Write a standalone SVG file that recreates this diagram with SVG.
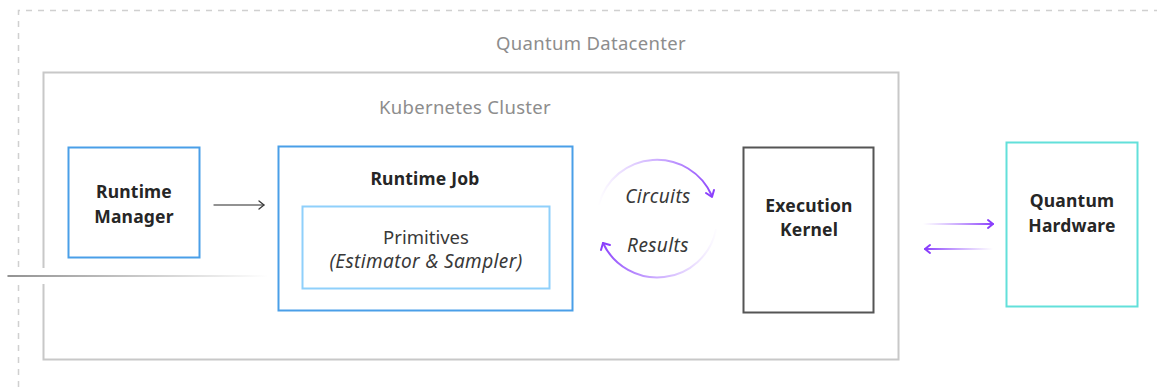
<svg xmlns="http://www.w3.org/2000/svg" width="1157" height="387" viewBox="0 0 1157 387">
<defs>
<style>
.title{font-family:"Noto Sans","Liberation Sans",sans-serif;font-size:18.5px;fill:#8d8d8d;text-anchor:middle;letter-spacing:0.3px}
.bold{font-family:"Noto Sans","Liberation Sans",sans-serif;font-size:17.5px;font-weight:bold;fill:#262626;text-anchor:middle;letter-spacing:0.2px}
.reg{font-family:"Noto Sans","Liberation Sans",sans-serif;font-size:18.5px;fill:#393939;text-anchor:middle}
.ital{font-family:"Noto Sans","Liberation Sans",sans-serif;font-size:19px;font-style:italic;fill:#393939;text-anchor:middle;letter-spacing:0.4px}
</style>
<linearGradient id="gLine" gradientUnits="userSpaceOnUse" x1="8" y1="0" x2="268" y2="0"><stop offset="0" stop-color="#6f6f6f"/><stop offset="1" stop-color="#6f6f6f" stop-opacity="0"/></linearGradient>
<linearGradient id="gUp" gradientUnits="userSpaceOnUse" x1="598" y1="0" x2="715" y2="0"><stop offset="0" stop-color="#a56eff" stop-opacity="0"/><stop offset="0.55" stop-color="#a56eff" stop-opacity="0.6"/><stop offset="1" stop-color="#8a3ffc"/></linearGradient>
<linearGradient id="gDown" gradientUnits="userSpaceOnUse" x1="718" y1="0" x2="600" y2="0"><stop offset="0" stop-color="#a56eff" stop-opacity="0"/><stop offset="0.55" stop-color="#a56eff" stop-opacity="0.6"/><stop offset="1" stop-color="#8a3ffc"/></linearGradient>
<linearGradient id="gR" gradientUnits="userSpaceOnUse" x1="923" y1="0" x2="993" y2="0"><stop offset="0" stop-color="#a56eff" stop-opacity="0"/><stop offset="1" stop-color="#8a3ffc"/></linearGradient>
<linearGradient id="gL" gradientUnits="userSpaceOnUse" x1="993" y1="0" x2="925" y2="0"><stop offset="0" stop-color="#a56eff" stop-opacity="0"/><stop offset="1" stop-color="#8a3ffc"/></linearGradient>
</defs>
<rect width="1157" height="387" fill="#ffffff"/>
<g id="datacenter">
<path d="M18.5 387 V10.5 H1157" fill="none" stroke="#d0d0d0" stroke-width="1.5" stroke-dasharray="6 6"/>
<text class="title" x="591" y="50">Quantum Datacenter</text>
</g>
<g id="cluster">
<rect x="43.5" y="72.5" width="855" height="287" fill="none" stroke="#c8c8c8" stroke-width="2"/>
<text class="title" x="465" y="114">Kubernetes Cluster</text>
</g>
<g id="runtime-manager">
<rect x="68.5" y="147.5" width="131" height="110" fill="#fff" stroke="#4a9fe8" stroke-width="2"/>
<text class="bold" x="134" y="198">Runtime</text>
<text class="bold" x="134" y="223">Manager</text>
</g>
<g id="runtime-job">
<rect x="278.5" y="146.5" width="294" height="164" fill="#fff" stroke="#4a9fe8" stroke-width="2"/>
<text class="bold" x="425" y="185">Runtime Job</text>
</g>
<g id="primitives">
<rect x="302.5" y="206.5" width="247" height="82" fill="#fff" stroke="#8fd0fb" stroke-width="2"/>
<text class="reg" x="426" y="244">Primitives</text>
<text class="ital" x="426" y="268">(Estimator &amp; Sampler)</text>
</g>
<g id="execution-kernel">
<rect x="743.5" y="147.5" width="130" height="165" fill="#fff" stroke="#555555" stroke-width="2"/>
<text class="bold" x="809" y="212">Execution</text>
<text class="bold" x="809" y="236">Kernel</text>
</g>
<g id="quantum-hardware">
<rect x="1006.5" y="142.5" width="131" height="164" fill="#fff" stroke="#62e0da" stroke-width="2"/>
<text class="bold" x="1072" y="207">Quantum</text>
<text class="bold" x="1072" y="232">Hardware</text>
</g>
<g id="connectors" fill="none" stroke-linecap="round" stroke-linejoin="round">
<rect x="5" y="268" width="265" height="16" fill="#ffffff" stroke="none"/>
<line x1="8" y1="276" x2="268" y2="276" stroke="url(#gLine)" stroke-width="1.5"/>
<path d="M214 205 H264" stroke="#6f6f6f" stroke-width="1.3"/>
<path d="M259 201 L264 205 L259 209" stroke="#393939" stroke-width="1.3"/>
<path d="M599 204 A60 60 0 0 1 712 196" stroke="url(#gUp)" stroke-width="2"/>
<path d="M706 193 L712 197 L714 190" stroke="#8a3ffc" stroke-width="2"/>
<path d="M716 230 A60 60 0 0 1 603 243" stroke="url(#gDown)" stroke-width="2"/>
<path d="M601 250 L603 243 L610 245" stroke="#8a3ffc" stroke-width="2"/>
<path d="M923 224 H993" stroke="url(#gR)" stroke-width="2"/>
<path d="M988 220 L993 224 L988 228" stroke="#8a3ffc" stroke-width="2"/>
<path d="M925 249 H993" stroke="url(#gL)" stroke-width="2"/>
<path d="M930 245 L925 249 L930 253" stroke="#8a3ffc" stroke-width="2"/>
<text class="ital" x="658" y="203">Circuits</text>
<text class="ital" x="658" y="252">Results</text>
</g>
</svg>
